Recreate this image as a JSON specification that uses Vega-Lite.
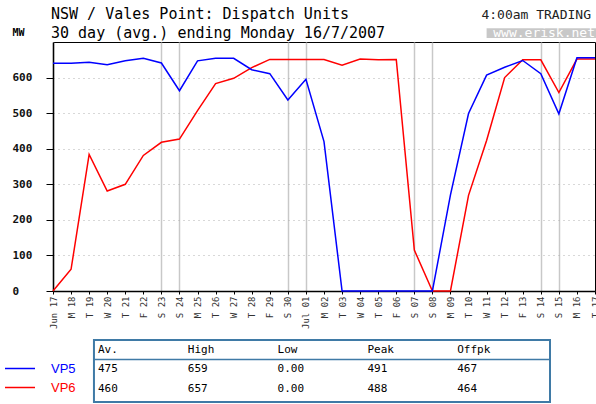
{
  "$schema": "https://vega.github.io/schema/vega-lite/v6.json",
  "background": "white",
  "padding": {"left": 11, "top": 6, "right": 0, "bottom": 0},
  "spacing": 9,
  "columns": 1,
  "align": "none",
  "bounds": "full",
  "resolve": {"scale": {"color": "independent"}, "legend": {"color": "independent"}},
  "config": {"font": "DejaVu Sans Mono"},
  "concat": [
    {
      "width": 542,
      "height": 249,
      "view": {"stroke": "black", "strokeWidth": 1},
      "title": {
        "text": "NSW / Vales Point: Dispatch Units",
        "subtitle": "30 day (avg.) ending Monday 16/7/2007",
        "anchor": "start", "frame": "group",
        "font": "DejaVu Sans Mono", "fontSize": 15, "fontWeight": "normal", "color": "black",
        "subtitleFont": "DejaVu Sans Mono", "subtitleFontSize": 15, "subtitleColor": "black",
        "offset": -32, "subtitlePadding": 4, "dx": -2
      },
      "layer": [
        {
          "data": {"values": [
            {"date": "2007-06-17", "series": "VP6", "mw": 0},
            {"date": "2007-06-18", "series": "VP6", "mw": 61},
            {"date": "2007-06-19", "series": "VP6", "mw": 384},
            {"date": "2007-06-20", "series": "VP6", "mw": 281},
            {"date": "2007-06-21", "series": "VP6", "mw": 300},
            {"date": "2007-06-22", "series": "VP6", "mw": 381},
            {"date": "2007-06-23", "series": "VP6", "mw": 418},
            {"date": "2007-06-24", "series": "VP6", "mw": 427},
            {"date": "2007-06-25", "series": "VP6", "mw": 507},
            {"date": "2007-06-26", "series": "VP6", "mw": 583},
            {"date": "2007-06-27", "series": "VP6", "mw": 598},
            {"date": "2007-06-28", "series": "VP6", "mw": 628},
            {"date": "2007-06-29", "series": "VP6", "mw": 651},
            {"date": "2007-06-30", "series": "VP6", "mw": 651},
            {"date": "2007-07-01", "series": "VP6", "mw": 651},
            {"date": "2007-07-02", "series": "VP6", "mw": 651},
            {"date": "2007-07-03", "series": "VP6", "mw": 635},
            {"date": "2007-07-04", "series": "VP6", "mw": 652},
            {"date": "2007-07-05", "series": "VP6", "mw": 650},
            {"date": "2007-07-06", "series": "VP6", "mw": 651},
            {"date": "2007-07-07", "series": "VP6", "mw": 115},
            {"date": "2007-07-08", "series": "VP6", "mw": 0},
            {"date": "2007-07-09", "series": "VP6", "mw": 0},
            {"date": "2007-07-10", "series": "VP6", "mw": 269},
            {"date": "2007-07-11", "series": "VP6", "mw": 423},
            {"date": "2007-07-12", "series": "VP6", "mw": 600},
            {"date": "2007-07-13", "series": "VP6", "mw": 650},
            {"date": "2007-07-14", "series": "VP6", "mw": 650},
            {"date": "2007-07-15", "series": "VP6", "mw": 558},
            {"date": "2007-07-16", "series": "VP6", "mw": 652},
            {"date": "2007-07-17", "series": "VP6", "mw": 652},
            {"date": "2007-06-17", "series": "VP5", "mw": 640},
            {"date": "2007-06-18", "series": "VP5", "mw": 640},
            {"date": "2007-06-19", "series": "VP5", "mw": 643},
            {"date": "2007-06-20", "series": "VP5", "mw": 636},
            {"date": "2007-06-21", "series": "VP5", "mw": 647},
            {"date": "2007-06-22", "series": "VP5", "mw": 654},
            {"date": "2007-06-23", "series": "VP5", "mw": 641},
            {"date": "2007-06-24", "series": "VP5", "mw": 563},
            {"date": "2007-06-25", "series": "VP5", "mw": 647},
            {"date": "2007-06-26", "series": "VP5", "mw": 654},
            {"date": "2007-06-27", "series": "VP5", "mw": 654},
            {"date": "2007-06-28", "series": "VP5", "mw": 622},
            {"date": "2007-06-29", "series": "VP5", "mw": 611},
            {"date": "2007-06-30", "series": "VP5", "mw": 537},
            {"date": "2007-07-01", "series": "VP5", "mw": 595},
            {"date": "2007-07-02", "series": "VP5", "mw": 420},
            {"date": "2007-07-03", "series": "VP5", "mw": 0},
            {"date": "2007-07-04", "series": "VP5", "mw": 0},
            {"date": "2007-07-05", "series": "VP5", "mw": 0},
            {"date": "2007-07-06", "series": "VP5", "mw": 0},
            {"date": "2007-07-07", "series": "VP5", "mw": 0},
            {"date": "2007-07-08", "series": "VP5", "mw": 0},
            {"date": "2007-07-09", "series": "VP5", "mw": 270},
            {"date": "2007-07-10", "series": "VP5", "mw": 499},
            {"date": "2007-07-11", "series": "VP5", "mw": 607},
            {"date": "2007-07-12", "series": "VP5", "mw": 629},
            {"date": "2007-07-13", "series": "VP5", "mw": 648},
            {"date": "2007-07-14", "series": "VP5", "mw": 611},
            {"date": "2007-07-15", "series": "VP5", "mw": 498},
            {"date": "2007-07-16", "series": "VP5", "mw": 656},
            {"date": "2007-07-17", "series": "VP5", "mw": 656}
          ]},
          "mark": {"type": "line", "strokeWidth": 1.5},
          "encoding": {
            "x": {
              "field": "date", "type": "temporal",
              "scale": {"type": "utc", "nice": false, "domain": [{"year": 2007, "month": 6, "date": 17, "utc": true}, {"year": 2007, "month": 7, "date": 17, "utc": true}]},
              "axis": {
                "title": null,
                "tickCount": {"interval": "day", "step": 1},
                "labelAngle": -90,
                "labelExpr": "(utcmonth(datum.value) == 5 && utcdate(datum.value) == 17) || utcdate(datum.value) == 1 ? utcFormat(datum.value, '%b %d') : slice(utcFormat(datum.value, '%a'), 0, 1) + ' ' + utcFormat(datum.value, '%d')",
                "labelFont": "DejaVu Sans Mono", "labelFontSize": 9, "labelColor": "#333",
                "labelPadding": 2, "labelFlush": false, "labelOverlap": false, "labelBound": false,
                "tickSize": 3, "tickColor": "black",
                "domainColor": "black", "domainWidth": 1.5,
                "grid": true, "gridWidth": 1.5,
                "gridColor": {"condition": {"test": "utcday(datum.value) == 0 || utcday(datum.value) == 6", "value": "#c8c8c8"}, "value": "transparent"}
              }
            },
            "y": {
              "field": "mw", "type": "quantitative",
              "scale": {"domain": [0, 700], "nice": false, "zero": true},
              "axis": {
                "values": [0, 50, 100, 150, 200, 250, 300, 350, 400, 450, 500, 550, 600, 650],
                "title": "MW", "titleAngle": 0, "titleX": -41, "titleY": -10, "titleAlign": "left", "titleBaseline": "middle",
                "titleFont": "DejaVu Sans Mono", "titleFontSize": 10, "titleFontWeight": "bold", "titleColor": "black",
                "labelExpr": "datum.value % 100 == 0 ? datum.label : ''",
                "labelAlign": "left", "labelPadding": 34,
                "labelFont": "DejaVu Sans Mono", "labelFontSize": 11, "labelFontWeight": "bold", "labelColor": "#111",
                "tickSize": {"condition": {"test": "datum.value % 100 == 0", "value": 7}, "value": 3},
                "tickColor": "black",
                "domainColor": "black", "domainWidth": 1.5,
                "grid": true, "gridColor": "#b0b0b0", "gridDash": [1, 4],
                "gridOpacity": {"condition": {"test": "datum.value % 100 == 0 && datum.value > 0", "value": 1}, "value": 0}
              }
            },
            "color": {
              "field": "series", "type": "nominal",
              "scale": {"domain": ["VP5", "VP6"], "range": ["#0000ff", "#ff0000"]},
              "legend": null
            },
            "order": {"field": "series", "sort": "descending"}
          }
        },
        {
          "data": {"values": [{"label": "4:00am TRADING"}]},
          "mark": {"type": "text", "align": "right", "baseline": "middle", "font": "DejaVu Sans Mono", "fontSize": 13, "dx": -4, "color": "#222"},
          "encoding": {
            "x": {"datum": {"year": 2007, "month": 7, "date": 17, "utc": true}, "type": "temporal"},
            "y": {"datum": 776, "type": "quantitative"},
            "text": {"field": "label"}
          }
        },
        {
          "data": {"values": [{"label": "www.erisk.net"}]},
          "layer": [
            {
              "mark": {"type": "rect", "color": "#c8c8c8"},
              "encoding": {
                "x": {"datum": {"year": 2007, "month": 7, "date": 11, "utc": true}, "type": "temporal"},
                "x2": {"datum": {"year": 2007, "month": 7, "date": 17, "hours": 2, "utc": true}},
                "y": {"datum": 739, "type": "quantitative"},
                "y2": {"datum": 711}
              }
            },
            {
              "mark": {"type": "text", "align": "right", "baseline": "middle", "font": "DejaVu Sans Mono", "fontSize": 13, "color": "white"},
              "encoding": {
                "x": {"datum": {"year": 2007, "month": 7, "date": 17, "utc": true}, "type": "temporal"},
                "y": {"datum": 725, "type": "quantitative"},
                "text": {"field": "label"}
              }
            }
          ]
        }
      ]
    },
    {
      "width": 497,
      "height": 62,
      "view": {"stroke": null},
      "data": {"values": [
        {"series": "VP5", "col": "Av.", "val": "475"},
        {"series": "VP5", "col": "High", "val": "659"},
        {"series": "VP5", "col": "Low", "val": "0.00"},
        {"series": "VP5", "col": "Peak", "val": "491"},
        {"series": "VP5", "col": "Offpk", "val": "467"},
        {"series": "VP6", "col": "Av.", "val": "460"},
        {"series": "VP6", "col": "High", "val": "657"},
        {"series": "VP6", "col": "Low", "val": "0.00"},
        {"series": "VP6", "col": "Peak", "val": "488"},
        {"series": "VP6", "col": "Offpk", "val": "464"}
      ]},
      "layer": [
        {
          "data": {"values": [{"box": "table"}]},
          "mark": {"type": "rect", "fill": "transparent", "stroke": "#3f7aa6", "strokeWidth": 2},
          "encoding": {
            "x": {"datum": "Av.", "type": "nominal", "bandPosition": 0, "axis": null,
                  "scale": {"type": "band", "domain": ["Av.", "High", "Low", "Peak", "Offpk"], "paddingInner": 0, "paddingOuter": 0.267, "align": 0.854}},
            "x2": {"value": "width"},
            "y": {"value": 0},
            "y2": {"value": "height"}
          }
        },
        {
          "data": {"values": [{"line": "header"}]},
          "mark": {"type": "rule", "color": "#3f7aa6", "strokeWidth": 1.5},
          "encoding": {
            "x": {"datum": "Av.", "type": "nominal", "bandPosition": 0, "axis": null,
                  "scale": {"type": "band", "domain": ["Av.", "High", "Low", "Peak", "Offpk"], "paddingInner": 0, "paddingOuter": 0.267, "align": 0.854}},
            "x2": {"value": "width"},
            "y": {"datum": "VP5", "type": "nominal", "bandPosition": 0, "axis": null,
                  "scale": {"type": "band", "domain": ["hdr", "VP5", "VP6"], "paddingInner": 0, "paddingOuter": 0.09, "align": 0}}
          }
        },
        {
          "transform": [{"filter": "datum.series == 'VP5'"}],
          "mark": {"type": "text", "align": "left", "baseline": "middle", "dx": 4, "font": "DejaVu Sans Mono", "fontSize": 11, "color": "black"},
          "encoding": {
            "x": {"field": "col", "type": "nominal", "bandPosition": 0, "axis": null,
                  "scale": {"type": "band", "domain": ["Av.", "High", "Low", "Peak", "Offpk"], "paddingInner": 0, "paddingOuter": 0.267, "align": 0.854}},
            "y": {"datum": "hdr", "type": "nominal", "axis": null,
                  "scale": {"type": "band", "domain": ["hdr", "VP5", "VP6"], "paddingInner": 0, "paddingOuter": 0.09, "align": 0}},
            "text": {"field": "col"}
          }
        },
        {
          "mark": {"type": "text", "align": "left", "baseline": "middle", "dx": 4, "font": "DejaVu Sans Mono", "fontSize": 11},
          "encoding": {
            "x": {"field": "col", "type": "nominal", "bandPosition": 0, "axis": null,
                  "scale": {"type": "band", "domain": ["Av.", "High", "Low", "Peak", "Offpk"], "paddingInner": 0, "paddingOuter": 0.267, "align": 0.854}},
            "y": {"field": "series", "type": "nominal", "axis": null,
                  "scale": {"type": "band", "domain": ["hdr", "VP5", "VP6"], "paddingInner": 0, "paddingOuter": 0.09, "align": 0}},
            "text": {"field": "val"},
            "color": {
              "field": "series", "type": "nominal",
              "scale": {"domain": ["VP5", "VP6"], "range": ["#000000", "#000000"]},
              "legend": {
                "orient": "none", "legendX": -39.5, "legendY": 22, "title": null, "padding": 0,
                "symbolType": "M-6,0H6", "symbolSize": 25, "symbolStrokeWidth": 1.5,
                "labelFont": "Liberation Sans", "labelFontSize": 13, "labelOffset": 24.5, "rowPadding": 5,
                "encode": {
                  "symbols": {"update": {"stroke": {"signal": "datum.value === 'VP5' ? '#0000ff' : '#ff0000'"}, "fill": {"value": "transparent"}}},
                  "labels": {"update": {"fill": {"signal": "datum.value === 'VP5' ? '#0000ff' : '#ff0000'"}}}
                }
              }
            }
          }
        }
      ]
    }
  ]
}
